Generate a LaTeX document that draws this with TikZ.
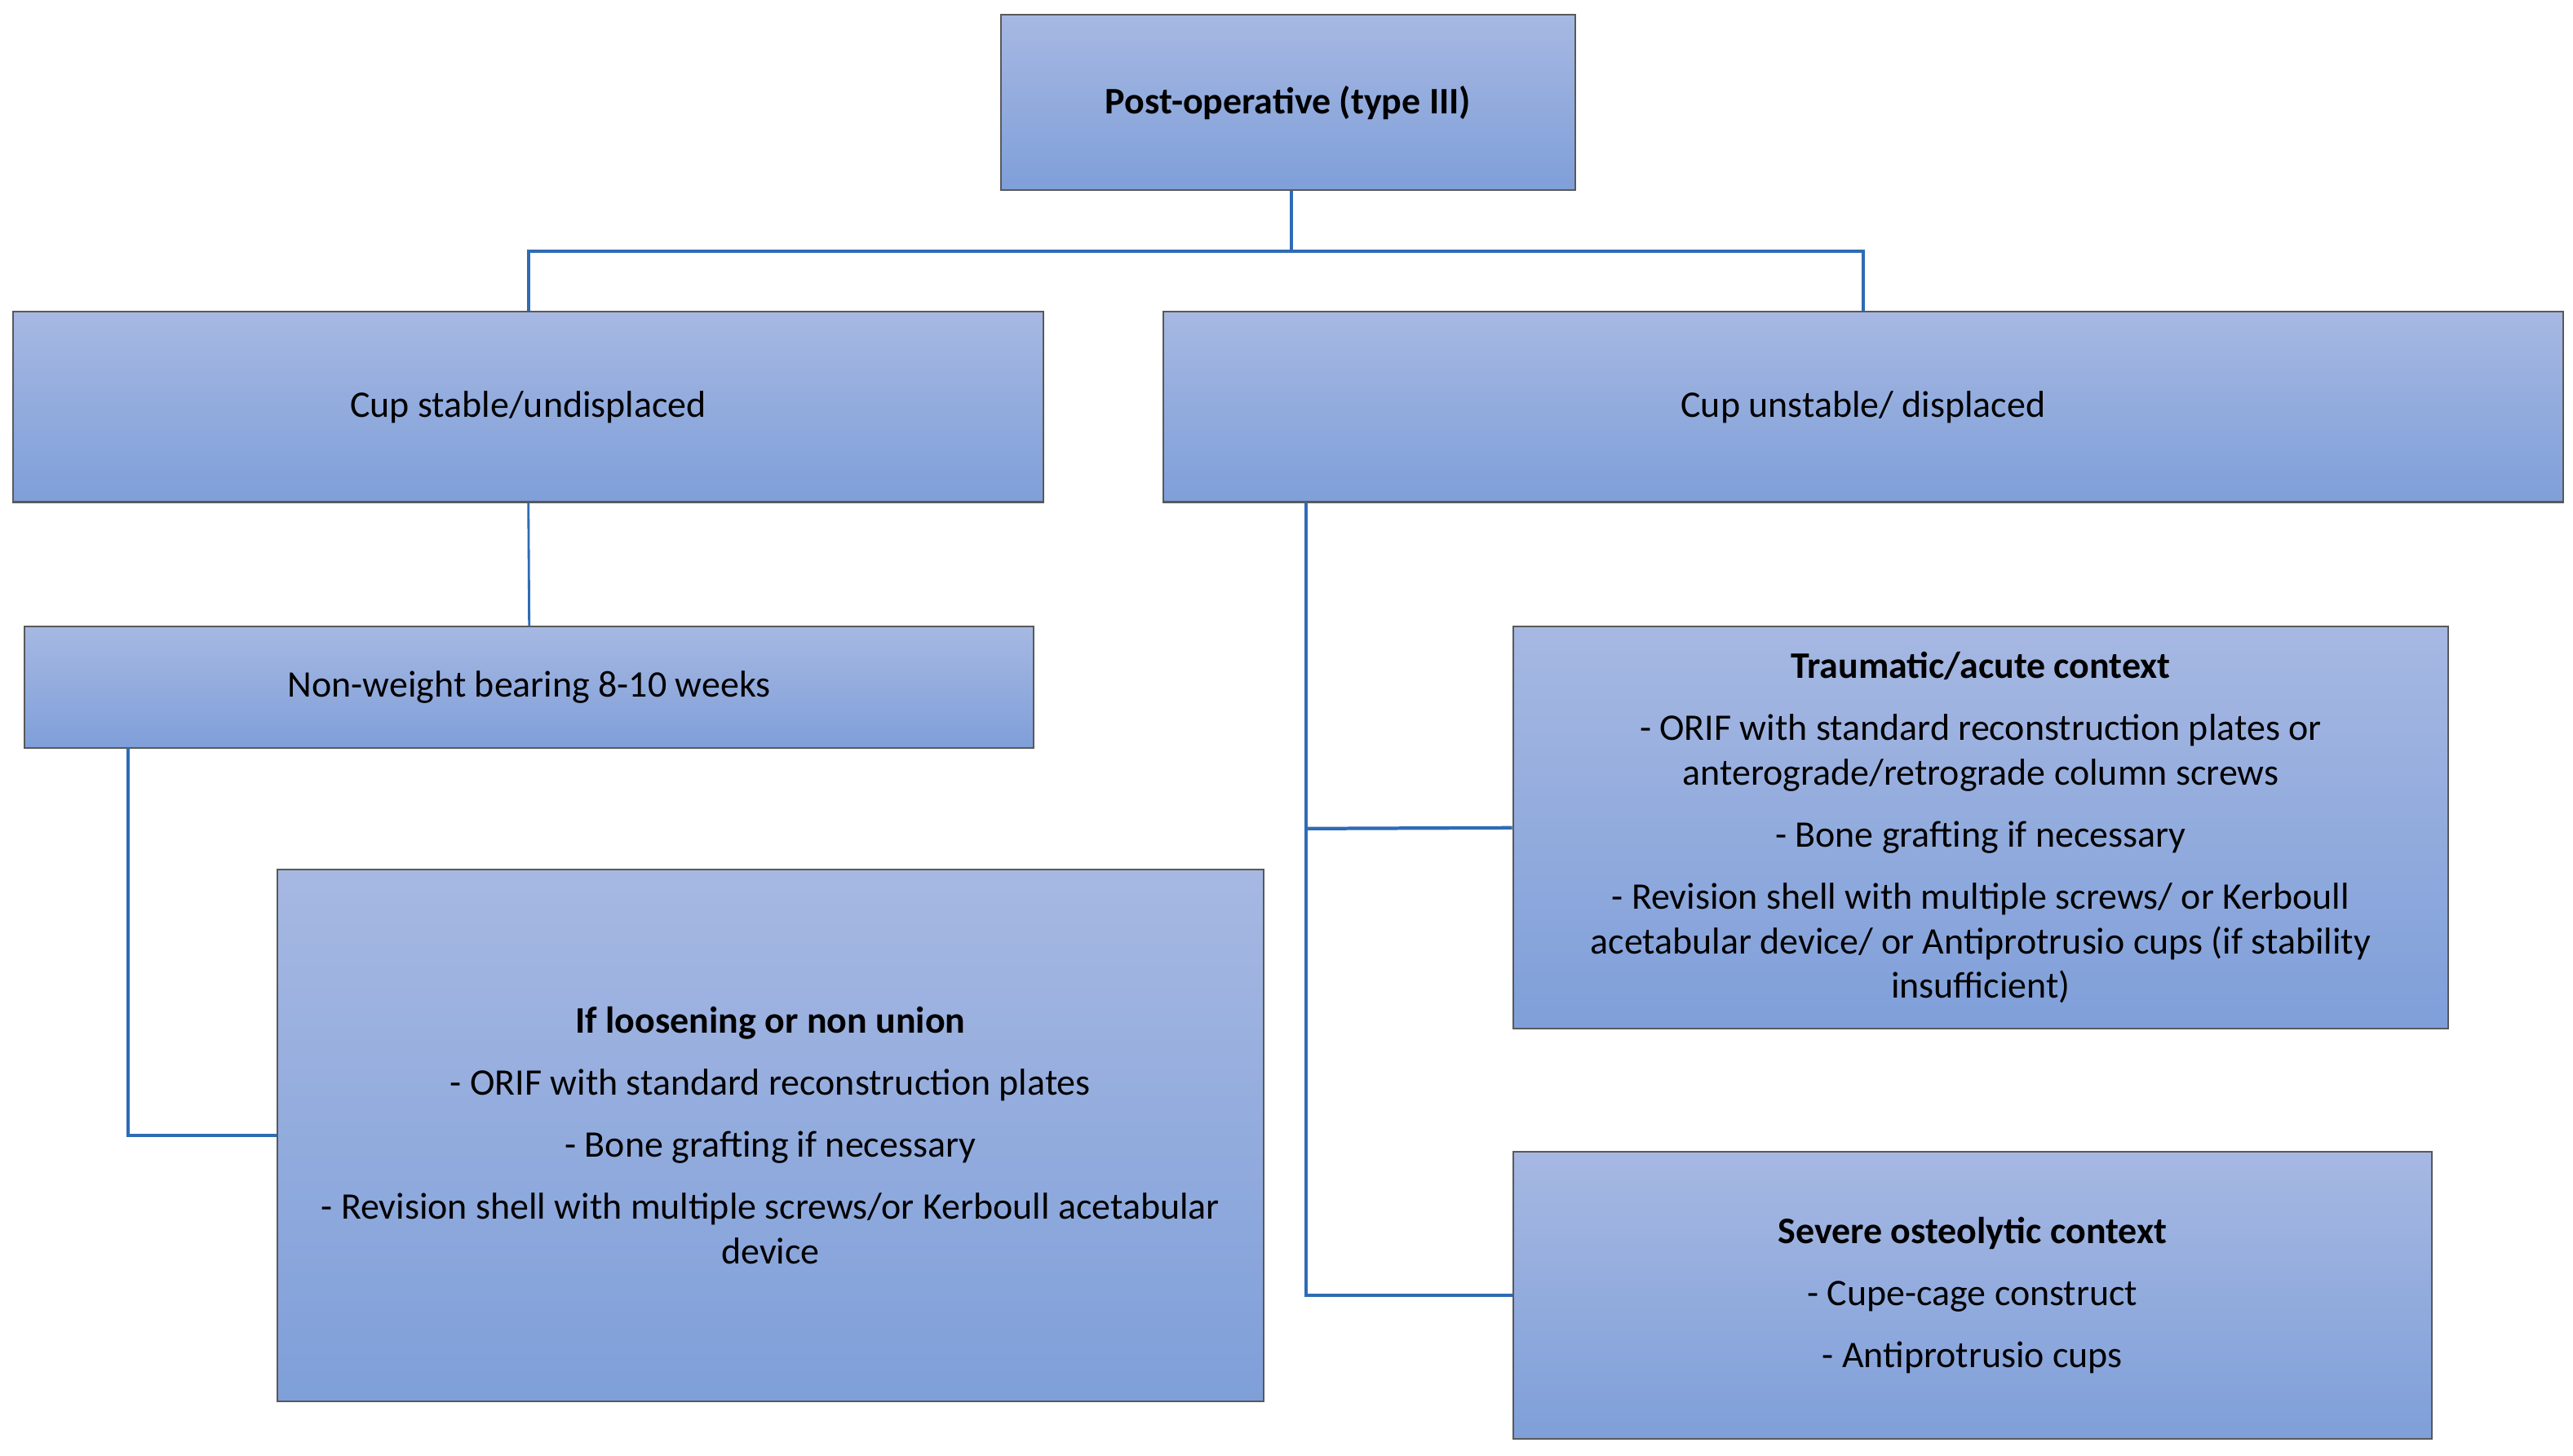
\documentclass[tikz,border=0pt]{standalone}
\usepackage{fontspec}
\setmainfont{Carlito}
\begin{document}
\begin{tikzpicture}[x=0.02cm,y=-0.02cm,
  box/.style={draw=gray!70!black, line width=0.6pt, top color=boxtop, bottom color=boxbot, align=center, inner sep=2pt, font=\fontsize{13}{15.5}\selectfont},
  conn/.style={draw=lineblue, line width=1.2pt}]
\definecolor{boxtop}{HTML}{A6B8E2}
\definecolor{boxbot}{HTML}{7F9FD9}
\definecolor{lineblue}{HTML}{2E6BB5}
\useasboundingbox (0,0) rectangle (1568,887);
\node[box, minimum width=350*0.02cm, minimum height=107*0.02cm] (top) at (785,62.5) {\textbf{Post-operative (type III)}};
\node[box, minimum width=628*0.02cm, minimum height=116*0.02cm] (L) at (322,248) {Cup stable/undisplaced};
\node[box, minimum width=853*0.02cm, minimum height=116*0.02cm] (R) at (1135.5,248) {Cup unstable/ displaced};
\node[box, minimum width=615*0.02cm, minimum height=74*0.02cm] (nwb) at (322.5,419) {Non-weight bearing 8-10 weeks};
\node[box, minimum width=601*0.02cm, minimum height=324*0.02cm] (loose) at (469.5,692) {\textbf{If loosening or non union}\\[6pt]
 - ORIF with standard reconstruction plates\\[6pt]
 - Bone grafting if necessary\\[6pt]
 - Revision shell with multiple screws/or Kerboull acetabular\\ device};
\node[box, minimum width=570*0.02cm, minimum height=245*0.02cm] (trauma) at (1207,504.5) {\textbf{Traumatic/acute context}\\[6pt]
 - ORIF with standard reconstruction plates or\\ anterograde/retrograde column screws\\[6pt]
 - Bone grafting if necessary\\[6pt]
 - Revision shell with multiple screws/ or Kerboull\\ acetabular device/ or Antiprotrusio cups (if stability\\ insufficient)};
\node[box, minimum width=560*0.02cm, minimum height=175*0.02cm] (severe) at (1202,789.5) {\textbf{Severe osteolytic context}\\[6pt]
 - Cupe-cage construct\\[6pt]
 - Antiprotrusio cups};
\coordinate (j) at (787,153);
\draw[conn] (top.south -| j) -- (j);
\draw[conn] (j) -| (L.north);
\draw[conn] (j) -| (R.north);
\draw[conn, line width=0.8pt] (L.south) -- (nwb.north);
\draw[conn] (78,456) |- (loose.west);
\draw[conn] (796,306) |- (severe.west);
\draw[conn] (796,505) -- (trauma.west);
\end{tikzpicture}
\end{document}
